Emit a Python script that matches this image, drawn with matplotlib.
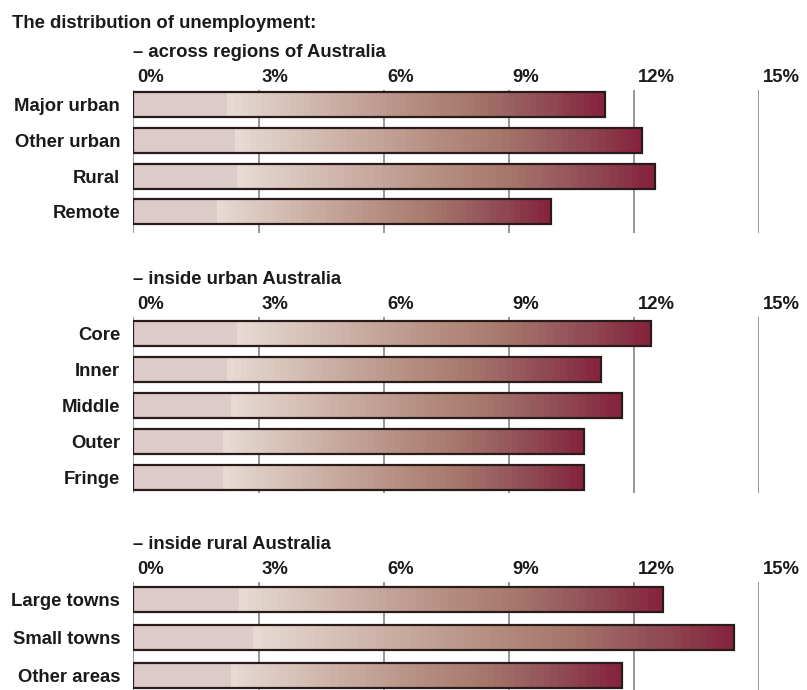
import numpy as np
import matplotlib
matplotlib.use("Agg")
import matplotlib.pyplot as plt
from matplotlib.colors import LinearSegmentedColormap, to_rgb

# unemployment rate (%) by area type
region_labels = ["Major urban", "Other urban", "Rural", "Remote"]
region_values = [11.3, 12.2, 12.5, 10.0]

urban_labels = ["Core", "Inner", "Middle", "Outer", "Fringe"]
urban_values = [12.4, 11.2, 11.7, 10.8, 10.8]

rural_labels = ["Large towns", "Small towns", "Other areas"]
rural_values = [12.7, 14.4, 11.7]

tick_values = [0, 3, 6, 9, 12, 15]

plt.rcParams['font.family'] = ['Liberation Sans', 'DejaVu Sans']
W, H = 807, 690
fig = plt.figure(figsize=(W / 100, H / 100), dpi=100)

FS = 13.3
TXT = "#1a1a1a"
X0, X15 = 133.3, 759.3
FLAT = "#dccbc9"
cmap = LinearSegmentedColormap.from_list(
    "maroon",
    [(0.0, "#e6dad2"), (0.25, "#ceb3a8"), (0.5, "#b48d80"), (0.65, "#a6786b"),
     (0.75, "#9c6262"), (0.88, "#8e4550"), (1.0, "#86243e")])


def gradient_row(n=600, bands=55):
    frac = np.linspace(0, 1, n)
    rgb = np.zeros((1, n, 3))
    for k, f in enumerate(frac):
        if f < 0.2:
            rgb[0, k] = to_rgb(FLAT)
        else:
            t = (f - 0.2) / 0.8
            t = min(np.floor(t * bands) / (bands - 1), 1.0)
            rgb[0, k] = cmap(t)[:3]
    return rgb


GRAD = gradient_row()


def panel(top, bottom, labels, values, subtitle, pad_t, pad_b, bar_h):
    ax = fig.add_axes([X0 / W, 1 - bottom / H, (X15 - X0) / W, (bottom - top) / H])
    n = len(labels)
    for i, v in enumerate(values):
        ax.imshow(GRAD, extent=(0, v, i - bar_h / 2, i + bar_h / 2),
                  aspect='auto', interpolation='nearest', zorder=2)
    ax.barh(range(n), values, height=bar_h, fill=False,
            edgecolor="#2a1b1b", linewidth=1.6, zorder=3)
    ax.vlines(tick_values, 0, 1, transform=ax.get_xaxis_transform(),
              color="#858585", linewidth=1.2, zorder=1)
    ax.set_xlim(0, 15)
    ax.set_ylim(n - 1 + pad_b, -pad_t)
    ax.set_xticks([])
    ax.set_yticks(range(n))
    ax.set_yticklabels(labels, fontsize=FS, fontweight='bold', color=TXT)
    ax.tick_params(axis='y', length=0, pad=9.5)
    for s in ax.spines.values():
        s.set_visible(False)
    ax.patch.set_alpha(0)
    for t in tick_values:
        ax.annotate(f"{t}%", xy=(t, 1), xycoords=('data', 'axes fraction'),
                    xytext=(2.5, 9), textcoords='offset points',
                    ha='left', va='center', fontsize=FS, fontweight='bold',
                    color=TXT, annotation_clip=False)
    ax.annotate(subtitle, xy=(0, 1), xycoords=('data', 'axes fraction'),
                xytext=(0, 27), textcoords='offset points',
                ha='left', va='center', fontsize=FS, fontweight='bold',
                color=TXT, annotation_clip=False)
    return ax


fig.text(12 / W, 1 - 23 / H, "The distribution of unemployment:",
         ha='left', va='center', fontsize=FS, fontweight='bold', color=TXT)

panel(90, 232.7, region_labels, region_values,
      "\u2013 across regions of Australia", 0.42, 0.585, 0.70)
panel(317.3, 493.3, urban_labels, urban_values,
      "\u2013 inside urban Australia", 0.44, 0.44, 0.69)
panel(581.7, 690, rural_labels, rural_values,
      "\u2013 inside rural Australia", 0.46, 0.37, 0.66)

fig.savefig("out.png", dpi=100)
